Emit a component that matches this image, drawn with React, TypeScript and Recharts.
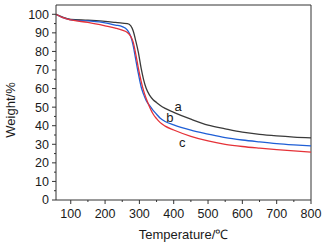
import { LineChart, Line, XAxis, YAxis, ReferenceLine, ReferenceDot } from "recharts"

const temperatures = [57, 75, 100, 150, 200, 230, 250, 265, 275, 282, 289, 297, 305, 312, 320, 330, 340, 350, 360, 375, 400, 450, 500, 550, 600, 650, 700, 750, 800]
const weightA = [100, 98.6, 97.3, 96.8, 96.2, 95.6, 95.2, 95.0, 93.8, 91.0, 86.0, 79.5, 71.0, 65.0, 60.0, 56.3, 54.0, 52.5, 51.0, 49.3, 47.2, 43.5, 40.3, 38.3, 36.5, 35.3, 34.5, 33.9, 33.5]
const weightB = [100, 98.3, 97.0, 96.4, 95.4, 94.2, 93.4, 91.5, 88.0, 83.0, 76.0, 68.0, 61.0, 57.0, 53.5, 50.8, 48.3, 46.2, 44.2, 42.3, 40.4, 37.6, 35.5, 33.6, 32.3, 31.3, 30.4, 29.7, 29.1]
const weightC = [100, 98.3, 97.0, 95.6, 93.8, 92.6, 91.5, 90.2, 88.0, 85.0, 79.0, 71.0, 64.0, 59.0, 54.5, 50.0, 46.3, 43.8, 41.8, 39.8, 37.7, 34.3, 31.8, 30.0, 28.8, 27.9, 27.1, 26.4, 25.8]

const xTicks = [100, 150, 200, 250, 300, 350, 400, 450, 500, 550, 600, 650, 700, 750, 800]
const yTicks = [0, 5, 10, 15, 20, 25, 30, 35, 40, 45, 50, 55, 60, 65, 70, 75, 80, 85, 90, 95, 100]

const labelNames = ["a", "b", "c"]
const labelTemps = [413, 389, 425]
const labelWeights = [50.2, 44.6, 30.9]

const data = temperatures.map((t, i) => ({ t, a: weightA[i], b: weightB[i], c: weightC[i] }))

const FONT = "Arial, 'Liberation Sans', sans-serif"
const AXIS = "#333"
const TEXT = "#1a1a1a"
const TICK_SIZE = 4
const TICK_MARGIN = 5

function XTick(props: any) {
  const { x, y, payload } = props
  const major = payload.value % 100 === 0
  const axisY = y - TICK_SIZE - TICK_MARGIN
  return (
    <g>
      <line x1={x} x2={x} y1={axisY} y2={axisY + (major ? 4 : 2)} stroke={AXIS} strokeWidth={1} />
      {major && (
        <text x={x} y={y} dy="0.71em" textAnchor="middle" fontSize={12.5} fontFamily={FONT} fill={TEXT}>
          {payload.value}
        </text>
      )}
    </g>
  )
}

function YTick(props: any) {
  const { x, y, payload } = props
  const major = payload.value % 10 === 0
  const axisX = x + TICK_SIZE + TICK_MARGIN
  return (
    <g>
      <line x1={axisX} x2={axisX - (major ? 4 : 2)} y1={y} y2={y} stroke={AXIS} strokeWidth={1} />
      {major && (
        <text x={x + 2} y={y} dy="0.355em" textAnchor="end" fontSize={12.5} fontFamily={FONT} fill={TEXT}>
          {payload.value}
        </text>
      )}
    </g>
  )
}

export default function App() {
  return (
    <div style={{ position: "absolute", left: 0, top: 0, background: "#fff" }}>
      <LineChart width={333} height={247} data={data} margin={{ top: 5, right: 22, left: 0, bottom: 0 }}>
        <XAxis
          dataKey="t"
          type="number"
          domain={[57, 800]}
          ticks={xTicks}
          interval={0}
          tick={<XTick />}
          tickLine={false}
          tickSize={TICK_SIZE}
          tickMargin={TICK_MARGIN}
          height={47}
          stroke={AXIS}
          allowDataOverflow
          label={{ value: "Temperature/℃", position: "insideBottom", offset: 8, fontSize: 13, fontFamily: FONT, fill: TEXT }}
        />
        <YAxis
          type="number"
          domain={[0, 105]}
          ticks={yTicks}
          interval={0}
          tick={<YTick />}
          tickLine={false}
          tickSize={TICK_SIZE}
          tickMargin={TICK_MARGIN}
          width={56}
          stroke={AXIS}
          allowDataOverflow
          label={{
            content: () => (
              <text x={10} y={110} transform="rotate(-90 10 110)" textAnchor="middle" dominantBaseline="central" fontSize={13} fontFamily={FONT} fill={TEXT}>
                Weight/%
              </text>
            ),
          }}
        />
        <ReferenceLine y={105} stroke={AXIS} strokeWidth={1} />
        <ReferenceLine x={800} stroke={AXIS} strokeWidth={1} />
        <Line type="monotone" dataKey="a" stroke="#3a3a3a" strokeWidth={1.3} dot={false} isAnimationActive={false} />
        <Line type="monotone" dataKey="b" stroke="#1f5fd6" strokeWidth={1.3} dot={false} isAnimationActive={false} />
        <Line type="monotone" dataKey="c" stroke="#e53238" strokeWidth={1.3} dot={false} isAnimationActive={false} />
        {labelNames.map((name, i) => (
          <ReferenceDot
            key={name}
            x={labelTemps[i]}
            y={labelWeights[i]}
            r={0}
            fill="none"
            stroke="none"
            label={{ value: name, position: "center", fontSize: 13, fontFamily: FONT, fill: TEXT }}
          />
        ))}
      </LineChart>
    </div>
  )
}
